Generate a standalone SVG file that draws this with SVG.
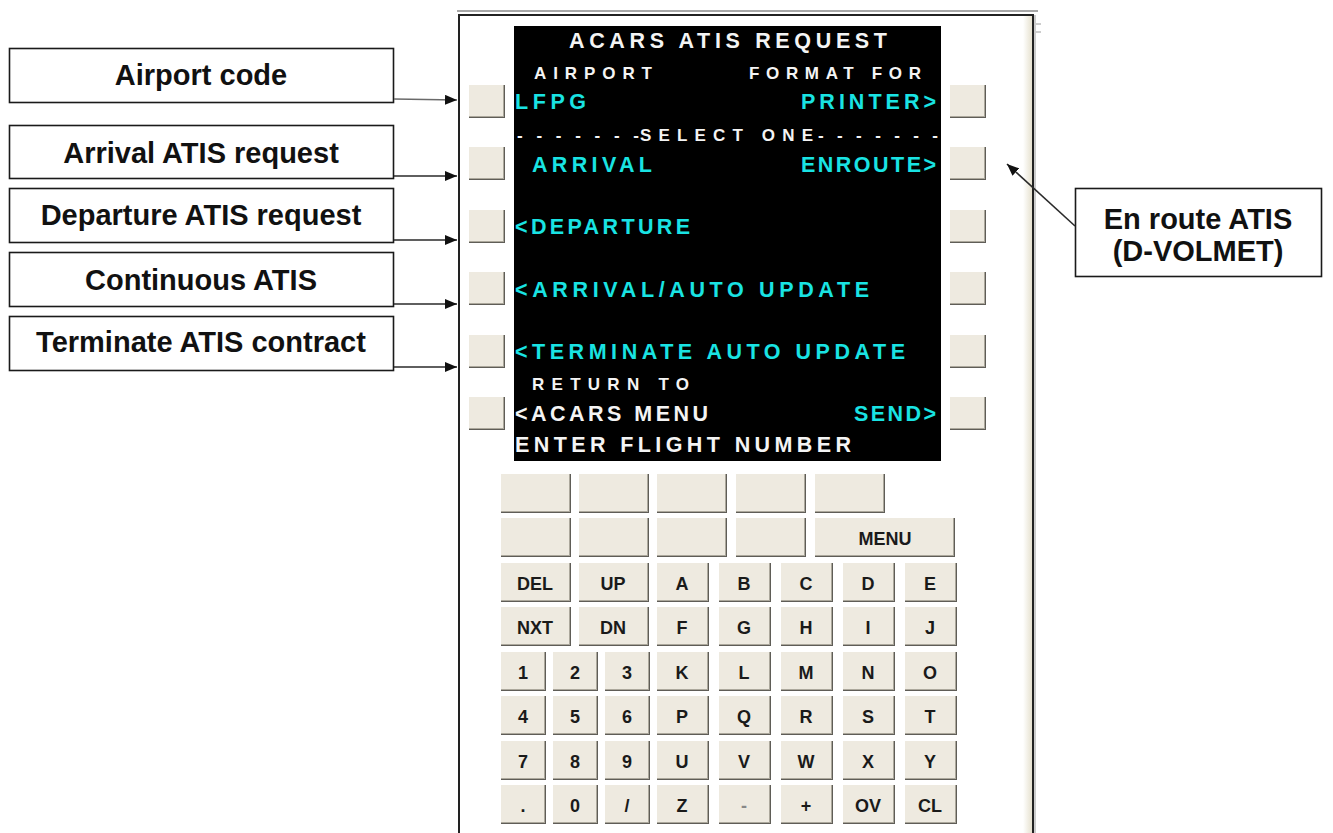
<svg xmlns="http://www.w3.org/2000/svg" width="1333" height="833" viewBox="0 0 1333 833">
<style>
.lbl{fill:#fff;stroke:#1a1a1a;stroke-width:1.6}
.lt{font-family:"Liberation Sans",Arial,sans-serif;font-weight:bold;font-size:29px;fill:#111;text-anchor:middle}
.scr{font-family:"Liberation Sans",Arial,sans-serif;font-weight:bold;font-size:21.5px}
.sm{font-size:17px}
.cy{fill:#19E3E3}
.wh{fill:#F4F4F4}
.kt{font-family:"Liberation Sans",Arial,sans-serif;font-weight:bold;font-size:18px;fill:#1a1a1a;text-anchor:middle}
.sh{fill:#5f5d57}
.md{fill:#aca89c}
.fc{fill:#EEEAE0}
.con{stroke:#2a2a2a;stroke-width:1.6;fill:none}
</style>
<defs>
<marker id="ah" markerUnits="userSpaceOnUse" markerWidth="12" markerHeight="10" refX="12" refY="5" orient="auto">
<path d="M0,0 L12,5 L0,10 z" fill="#111"/>
</marker>
<linearGradient id="edge" x1="0" y1="0" x2="1" y2="0">
<stop offset="0" stop-color="#ffffff"/>
<stop offset="1" stop-color="#E6E1CF"/>
</linearGradient>
<g id="lsk"><rect width="36" height="33" class="sh"/><rect width="35" height="32" class="md"/><rect width="34" height="31" class="fc"/></g>
<g id="k70"><rect width="70" height="39" class="sh"/><rect width="69" height="38" class="md"/><rect width="68" height="37" class="fc"/></g>
<g id="k140"><rect width="140" height="39" class="sh"/><rect width="139" height="38" class="md"/><rect width="138" height="37" class="fc"/></g>
<g id="k52"><rect width="52" height="39" class="sh"/><rect width="51" height="38" class="md"/><rect width="50" height="37" class="fc"/></g>
<g id="k45"><rect width="45" height="39" class="sh"/><rect width="44" height="38" class="md"/><rect width="43" height="37" class="fc"/></g>
</defs>
<rect width="1333" height="833" fill="#fff"/>

<g id="frame">
<line x1="457" y1="11" x2="1038" y2="11" stroke="#8a8a8a" stroke-width="1.5"/>
<rect x="459" y="15" width="574" height="840" fill="#fff" stroke="#222" stroke-width="2"/>
<rect x="1023" y="16" width="9" height="830" fill="url(#edge)"/>
<line x1="1035" y1="15" x2="1035" y2="833" stroke="#9a9a9a" stroke-width="1"/>
<line x1="1036" y1="24" x2="1041" y2="24" stroke="#9a9a9a" stroke-width="1"/>
<line x1="1036" y1="32" x2="1041" y2="32" stroke="#9a9a9a" stroke-width="1"/>
</g>

<g id="screen">
<rect x="514" y="26" width="427" height="435" fill="#000"/>
<text class="scr wh" x="569" y="48" textLength="318" lengthAdjust="spacing">ACARS ATIS REQUEST</text>
<text class="scr sm wh" x="534" y="79" textLength="118" lengthAdjust="spacing">AIRPORT</text>
<text class="scr sm wh" x="749" y="79" textLength="172" lengthAdjust="spacing">FORMAT FOR</text>
<text class="scr cy" x="515" y="109" textLength="71" lengthAdjust="spacing">LFPG</text>
<text class="scr cy" x="801" y="109" textLength="135" lengthAdjust="spacing">PRINTER&gt;</text>
<text class="scr sm wh"><tspan x="517" y="141" textLength="122" lengthAdjust="spacing">-------</tspan><tspan x="640" y="141" textLength="173" lengthAdjust="spacing">SELECT ONE</tspan><tspan x="818" y="141" textLength="120" lengthAdjust="spacing">-------</tspan></text>
<text class="scr cy" x="532" y="172" textLength="120" lengthAdjust="spacing">ARRIVAL</text>
<text class="scr cy" x="801" y="172" textLength="135" lengthAdjust="spacing">ENROUTE&gt;</text>
<text class="scr cy" x="515" y="234" textLength="175" lengthAdjust="spacing">&lt;DEPARTURE</text>
<text class="scr cy" x="515" y="297" textLength="354" lengthAdjust="spacing">&lt;ARRIVAL/AUTO UPDATE</text>
<text class="scr cy" x="515" y="359" textLength="390" lengthAdjust="spacing">&lt;TERMINATE AUTO UPDATE</text>
<text class="scr sm wh" x="532" y="390" textLength="157" lengthAdjust="spacing">RETURN TO</text>
<text class="scr wh" x="515" y="421" textLength="193" lengthAdjust="spacing">&lt;ACARS MENU</text>
<text class="scr cy" x="854" y="421" textLength="82" lengthAdjust="spacing">SEND&gt;</text>
<text class="scr wh" x="515" y="452" textLength="336" lengthAdjust="spacing">ENTER FLIGHT NUMBER</text>
</g>

<g id="lsk-left">
<use href="#lsk" x="469" y="85"/>
<use href="#lsk" x="469" y="147"/>
<use href="#lsk" x="469" y="210"/>
<use href="#lsk" x="469" y="272"/>
<use href="#lsk" x="469" y="335"/>
<use href="#lsk" x="469" y="397"/>
</g>
<g id="lsk-right">
<use href="#lsk" x="950" y="85"/>
<use href="#lsk" x="950" y="147"/>
<use href="#lsk" x="950" y="210"/>
<use href="#lsk" x="950" y="272"/>
<use href="#lsk" x="950" y="335"/>
<use href="#lsk" x="950" y="397"/>
</g>

<g id="keypad">
<use href="#k70" x="501" y="474"/><use href="#k70" x="579" y="474"/><use href="#k70" x="657" y="474"/><use href="#k70" x="736" y="474"/><use href="#k70" x="815" y="474"/>
<use href="#k70" x="501" y="518"/><use href="#k70" x="579" y="518"/><use href="#k70" x="657" y="518"/><use href="#k70" x="736" y="518"/>
<g id="key-menu"><use href="#k140" x="815" y="518"/><text class="kt" x="885" y="545">MENU</text></g>

<use href="#k70" x="501" y="563"/><use href="#k70" x="579" y="563"/>
<use href="#k52" x="657" y="563"/><use href="#k52" x="719" y="563"/><use href="#k52" x="781" y="563"/><use href="#k52" x="843" y="563"/><use href="#k52" x="905" y="563"/>
<text class="kt" x="535" y="590">DEL</text><text class="kt" x="613" y="590">UP</text>
<text class="kt" x="682" y="590">A</text><text class="kt" x="744" y="590">B</text><text class="kt" x="806" y="590">C</text><text class="kt" x="868" y="590">D</text><text class="kt" x="930" y="590">E</text>

<use href="#k70" x="501" y="607"/><use href="#k70" x="579" y="607"/>
<use href="#k52" x="657" y="607"/><use href="#k52" x="719" y="607"/><use href="#k52" x="781" y="607"/><use href="#k52" x="843" y="607"/><use href="#k52" x="905" y="607"/>
<text class="kt" x="535" y="634">NXT</text><text class="kt" x="613" y="634">DN</text>
<text class="kt" x="682" y="634">F</text><text class="kt" x="744" y="634">G</text><text class="kt" x="806" y="634">H</text><text class="kt" x="868" y="634">I</text><text class="kt" x="930" y="634">J</text>

<use href="#k45" x="501" y="652"/><use href="#k45" x="553" y="652"/><use href="#k45" x="605" y="652"/>
<use href="#k52" x="657" y="652"/><use href="#k52" x="719" y="652"/><use href="#k52" x="781" y="652"/><use href="#k52" x="843" y="652"/><use href="#k52" x="905" y="652"/>
<text class="kt" x="523" y="679">1</text><text class="kt" x="575" y="679">2</text><text class="kt" x="627" y="679">3</text>
<text class="kt" x="682" y="679">K</text><text class="kt" x="744" y="679">L</text><text class="kt" x="806" y="679">M</text><text class="kt" x="868" y="679">N</text><text class="kt" x="930" y="679">O</text>

<use href="#k45" x="501" y="696"/><use href="#k45" x="553" y="696"/><use href="#k45" x="605" y="696"/>
<use href="#k52" x="657" y="696"/><use href="#k52" x="719" y="696"/><use href="#k52" x="781" y="696"/><use href="#k52" x="843" y="696"/><use href="#k52" x="905" y="696"/>
<text class="kt" x="523" y="723">4</text><text class="kt" x="575" y="723">5</text><text class="kt" x="627" y="723">6</text>
<text class="kt" x="682" y="723">P</text><text class="kt" x="744" y="723">Q</text><text class="kt" x="806" y="723">R</text><text class="kt" x="868" y="723">S</text><text class="kt" x="930" y="723">T</text>

<use href="#k45" x="501" y="741"/><use href="#k45" x="553" y="741"/><use href="#k45" x="605" y="741"/>
<use href="#k52" x="657" y="741"/><use href="#k52" x="719" y="741"/><use href="#k52" x="781" y="741"/><use href="#k52" x="843" y="741"/><use href="#k52" x="905" y="741"/>
<text class="kt" x="523" y="768">7</text><text class="kt" x="575" y="768">8</text><text class="kt" x="627" y="768">9</text>
<text class="kt" x="682" y="768">U</text><text class="kt" x="744" y="768">V</text><text class="kt" x="806" y="768">W</text><text class="kt" x="868" y="768">X</text><text class="kt" x="930" y="768">Y</text>

<use href="#k45" x="501" y="785"/><use href="#k45" x="553" y="785"/><use href="#k45" x="605" y="785"/>
<use href="#k52" x="657" y="785"/><use href="#k52" x="719" y="785"/><use href="#k52" x="781" y="785"/><use href="#k52" x="843" y="785"/><use href="#k52" x="905" y="785"/>
<text class="kt" x="523" y="812">.</text><text class="kt" x="575" y="812">0</text><text class="kt" x="627" y="812">/</text>
<text class="kt" x="682" y="812">Z</text><text class="kt" x="744" y="812" style="fill:#888">-</text><text class="kt" x="806" y="812">+</text><text class="kt" x="868" y="812">OV</text><text class="kt" x="930" y="812">CL</text>
</g>

<g id="label-airport-code"><rect class="lbl" x="9.5" y="48.5" width="384" height="54"/><text class="lt" x="201" y="85">Airport code</text></g>
<g id="label-arrival"><rect class="lbl" x="9.5" y="125.5" width="384" height="53"/><text class="lt" x="201" y="163">Arrival ATIS request</text></g>
<g id="label-departure"><rect class="lbl" x="9.5" y="188.5" width="384" height="54"/><text class="lt" x="201" y="225">Departure ATIS request</text></g>
<g id="label-continuous"><rect class="lbl" x="9.5" y="252.5" width="384" height="54"/><text class="lt" x="201" y="290">Continuous ATIS</text></g>
<g id="label-terminate"><rect class="lbl" x="9.5" y="316.5" width="384" height="54"/><text class="lt" x="201" y="352">Terminate ATIS contract</text></g>
<g id="label-enroute"><rect class="lbl" x="1075.5" y="188.5" width="246" height="88"/><text class="lt" x="1198" y="229">En route ATIS</text><text class="lt" x="1198" y="261">(D-VOLMET)</text></g>

<g id="connectors">
<line class="con" x1="394" y1="99" x2="457" y2="100" marker-end="url(#ah)" style="stroke:#6a6a6a"/>
<line class="con" x1="394" y1="176" x2="457" y2="176" marker-end="url(#ah)"/>
<line class="con" x1="394" y1="240" x2="457" y2="240" marker-end="url(#ah)"/>
<line class="con" x1="394" y1="304" x2="457" y2="304" marker-end="url(#ah)"/>
<line class="con" x1="394" y1="367" x2="457" y2="367" marker-end="url(#ah)"/>
<line class="con" x1="1075" y1="226" x2="1007" y2="164" marker-end="url(#ah)"/>
</g>
</svg>
